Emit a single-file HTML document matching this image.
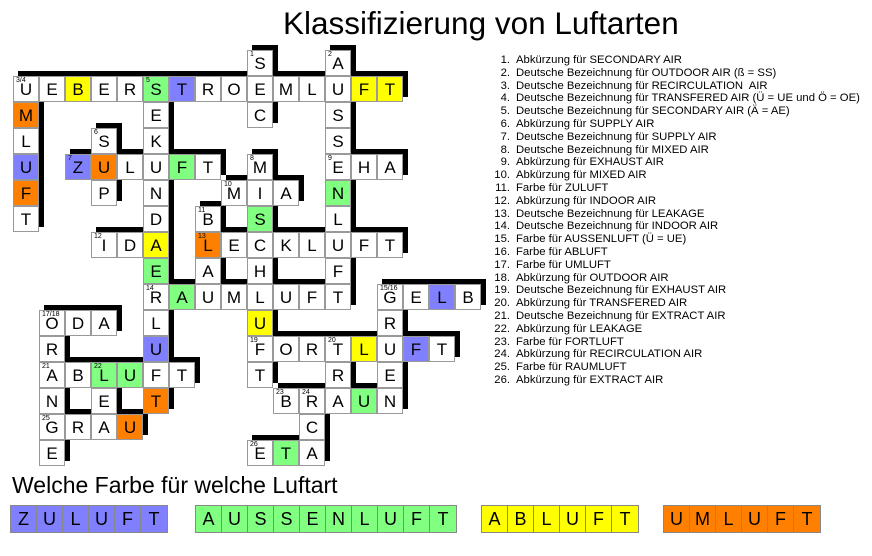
<!DOCTYPE html>
<html><head><meta charset="utf-8"><style>
body{margin:0;width:872px;height:556px;background:#fff;position:relative;overflow:hidden;font-family:"Liberation Sans",Arial,sans-serif}
.s,.c{position:absolute;width:26px;height:26px;box-sizing:border-box}
.s{background:#000;transform:translate(5px,-5px)}
.c{background:#fff;border:1px solid #999;font-size:17px;line-height:26px;text-align:center;color:#000}
.c b{position:absolute;left:2px;top:0;font-size:7px;line-height:8px;font-weight:normal}
.y{background:#ffff00}.g{background:#80ff80}.u{background:#8080ff}.o{background:#ff8000}
#t{position:absolute;left:283px;top:5px;font-size:31.5px;white-space:nowrap}
#l{position:absolute;left:486px;top:54px;font-size:11.3px;line-height:12.8px;margin:0;padding:0;list-style:none;white-space:nowrap}
#l span{display:inline-block;width:24px;text-align:right;margin-right:6px}
#h{position:absolute;left:12px;top:472px;font-size:23px;white-space:nowrap}
.bx{position:absolute;top:505px;height:26px;display:flex;border:1px solid #888}
.bx i{font-style:normal;width:26px;height:26px;box-sizing:border-box;border-right:1px solid #888;text-align:center;line-height:26px;font-size:18px}
.bx i:last-child{border-right:0}
</style></head><body>
<div id="t">Klassifizierung von Luftarten</div>
<ul id="l">
<li><span>1.</span>Abkürzung für SECONDARY AIR</li>
<li><span>2.</span>Deutsche Bezeichnung für OUTDOOR AIR (ß = SS)</li>
<li><span>3.</span>Deutsche Bezeichnung für RECIRCULATION&nbsp; AIR</li>
<li><span>4.</span>Deutsche Bezeichnung für TRANSFERED AIR (Ü = UE und Ö = OE)</li>
<li><span>5.</span>Deutsche Bezeichnung für SECONDARY AIR (Ä = AE)</li>
<li><span>6.</span>Abkürzung für SUPPLY AIR</li>
<li><span>7.</span>Deutsche Bezeichnung für SUPPLY AIR</li>
<li><span>8.</span>Deutsche Bezeichnung für MIXED AIR</li>
<li><span>9.</span>Abkürzung für EXHAUST AIR</li>
<li><span>10.</span>Abkürzung für MIXED AIR</li>
<li><span>11.</span>Farbe für ZULUFT</li>
<li><span>12.</span>Abkürzung für INDOOR AIR</li>
<li><span>13.</span>Deutsche Bezeichnung für LEAKAGE</li>
<li><span>14.</span>Deutsche Bezeichnung für INDOOR AIR</li>
<li><span>15.</span>Farbe für AUSSENLUFT (Ü = UE)</li>
<li><span>16.</span>Farbe für ABLUFT</li>
<li><span>17.</span>Farbe für UMLUFT</li>
<li><span>18.</span>Abkürzung für OUTDOOR AIR</li>
<li><span>19.</span>Deutsche Bezeichnung für EXHAUST AIR</li>
<li><span>20.</span>Abkürzung für TRANSFERED AIR</li>
<li><span>21.</span>Deutsche Bezeichnung für EXTRACT AIR</li>
<li><span>22.</span>Abkürzung für LEAKAGE</li>
<li><span>23.</span>Farbe für FORTLUFT</li>
<li><span>24.</span>Abkürzung für RECIRCULATION AIR</li>
<li><span>25.</span>Farbe für RAUMLUFT</li>
<li><span>26.</span>Abkürzung für EXTRACT AIR</li>
</ul>

<div id="sh">
<div class="s" style="left:247px;top:50px"></div><div class="s" style="left:325px;top:50px"></div>
<div class="s" style="left:13px;top:76px"></div><div class="s" style="left:39px;top:76px"></div><div class="s" style="left:65px;top:76px"></div><div class="s" style="left:91px;top:76px"></div><div class="s" style="left:117px;top:76px"></div><div class="s" style="left:143px;top:76px"></div><div class="s" style="left:169px;top:76px"></div><div class="s" style="left:195px;top:76px"></div><div class="s" style="left:221px;top:76px"></div><div class="s" style="left:247px;top:76px"></div><div class="s" style="left:273px;top:76px"></div><div class="s" style="left:299px;top:76px"></div><div class="s" style="left:325px;top:76px"></div><div class="s" style="left:351px;top:76px"></div><div class="s" style="left:377px;top:76px"></div>
<div class="s" style="left:13px;top:102px"></div><div class="s" style="left:143px;top:102px"></div><div class="s" style="left:247px;top:102px"></div><div class="s" style="left:325px;top:102px"></div>
<div class="s" style="left:13px;top:128px"></div><div class="s" style="left:91px;top:128px"></div><div class="s" style="left:143px;top:128px"></div><div class="s" style="left:325px;top:128px"></div>
<div class="s" style="left:13px;top:154px"></div><div class="s" style="left:65px;top:154px"></div><div class="s" style="left:91px;top:154px"></div><div class="s" style="left:117px;top:154px"></div><div class="s" style="left:143px;top:154px"></div><div class="s" style="left:169px;top:154px"></div><div class="s" style="left:195px;top:154px"></div><div class="s" style="left:247px;top:154px"></div><div class="s" style="left:325px;top:154px"></div><div class="s" style="left:351px;top:154px"></div><div class="s" style="left:377px;top:154px"></div>
<div class="s" style="left:13px;top:180px"></div><div class="s" style="left:91px;top:180px"></div><div class="s" style="left:143px;top:180px"></div><div class="s" style="left:221px;top:180px"></div><div class="s" style="left:247px;top:180px"></div><div class="s" style="left:273px;top:180px"></div><div class="s" style="left:325px;top:180px"></div>
<div class="s" style="left:13px;top:206px"></div><div class="s" style="left:143px;top:206px"></div><div class="s" style="left:195px;top:206px"></div><div class="s" style="left:247px;top:206px"></div><div class="s" style="left:325px;top:206px"></div>
<div class="s" style="left:91px;top:232px"></div><div class="s" style="left:117px;top:232px"></div><div class="s" style="left:143px;top:232px"></div><div class="s" style="left:195px;top:232px"></div><div class="s" style="left:221px;top:232px"></div><div class="s" style="left:247px;top:232px"></div><div class="s" style="left:273px;top:232px"></div><div class="s" style="left:299px;top:232px"></div><div class="s" style="left:325px;top:232px"></div><div class="s" style="left:351px;top:232px"></div><div class="s" style="left:377px;top:232px"></div>
<div class="s" style="left:143px;top:258px"></div><div class="s" style="left:195px;top:258px"></div><div class="s" style="left:247px;top:258px"></div><div class="s" style="left:325px;top:258px"></div>
<div class="s" style="left:143px;top:284px"></div><div class="s" style="left:169px;top:284px"></div><div class="s" style="left:195px;top:284px"></div><div class="s" style="left:221px;top:284px"></div><div class="s" style="left:247px;top:284px"></div><div class="s" style="left:273px;top:284px"></div><div class="s" style="left:299px;top:284px"></div><div class="s" style="left:325px;top:284px"></div><div class="s" style="left:377px;top:284px"></div><div class="s" style="left:403px;top:284px"></div><div class="s" style="left:429px;top:284px"></div><div class="s" style="left:455px;top:284px"></div>
<div class="s" style="left:39px;top:310px"></div><div class="s" style="left:65px;top:310px"></div><div class="s" style="left:91px;top:310px"></div><div class="s" style="left:143px;top:310px"></div><div class="s" style="left:247px;top:310px"></div><div class="s" style="left:377px;top:310px"></div>
<div class="s" style="left:39px;top:336px"></div><div class="s" style="left:143px;top:336px"></div><div class="s" style="left:247px;top:336px"></div><div class="s" style="left:273px;top:336px"></div><div class="s" style="left:299px;top:336px"></div><div class="s" style="left:325px;top:336px"></div><div class="s" style="left:351px;top:336px"></div><div class="s" style="left:377px;top:336px"></div><div class="s" style="left:403px;top:336px"></div><div class="s" style="left:429px;top:336px"></div>
<div class="s" style="left:39px;top:362px"></div><div class="s" style="left:65px;top:362px"></div><div class="s" style="left:91px;top:362px"></div><div class="s" style="left:117px;top:362px"></div><div class="s" style="left:143px;top:362px"></div><div class="s" style="left:169px;top:362px"></div><div class="s" style="left:247px;top:362px"></div><div class="s" style="left:325px;top:362px"></div><div class="s" style="left:377px;top:362px"></div>
<div class="s" style="left:39px;top:388px"></div><div class="s" style="left:91px;top:388px"></div><div class="s" style="left:143px;top:388px"></div><div class="s" style="left:273px;top:388px"></div><div class="s" style="left:299px;top:388px"></div><div class="s" style="left:325px;top:388px"></div><div class="s" style="left:351px;top:388px"></div><div class="s" style="left:377px;top:388px"></div>
<div class="s" style="left:39px;top:414px"></div><div class="s" style="left:65px;top:414px"></div><div class="s" style="left:91px;top:414px"></div><div class="s" style="left:117px;top:414px"></div><div class="s" style="left:299px;top:414px"></div>
<div class="s" style="left:39px;top:440px"></div><div class="s" style="left:247px;top:440px"></div><div class="s" style="left:273px;top:440px"></div><div class="s" style="left:299px;top:440px"></div>
</div>

<div id="cells">
<div class="c" style="left:247px;top:50px"><b>1</b>S</div><div class="c" style="left:325px;top:50px"><b>2</b>A</div>
<div class="c" style="left:13px;top:76px"><b>3/4</b>U</div><div class="c" style="left:39px;top:76px">E</div><div class="c y" style="left:65px;top:76px">B</div><div class="c" style="left:91px;top:76px">E</div><div class="c" style="left:117px;top:76px">R</div><div class="c g" style="left:143px;top:76px"><b>5</b>S</div><div class="c u" style="left:169px;top:76px">T</div><div class="c" style="left:195px;top:76px">R</div><div class="c" style="left:221px;top:76px">O</div><div class="c" style="left:247px;top:76px">E</div><div class="c" style="left:273px;top:76px">M</div><div class="c" style="left:299px;top:76px">L</div><div class="c" style="left:325px;top:76px">U</div><div class="c y" style="left:351px;top:76px">F</div><div class="c y" style="left:377px;top:76px">T</div>
<div class="c o" style="left:13px;top:102px">M</div><div class="c" style="left:143px;top:102px">E</div><div class="c" style="left:247px;top:102px">C</div><div class="c" style="left:325px;top:102px">S</div>
<div class="c" style="left:13px;top:128px">L</div><div class="c" style="left:91px;top:128px"><b>6</b>S</div><div class="c" style="left:143px;top:128px">K</div><div class="c" style="left:325px;top:128px">S</div>
<div class="c u" style="left:13px;top:154px">U</div><div class="c u" style="left:65px;top:154px"><b>7</b>Z</div><div class="c o" style="left:91px;top:154px">U</div><div class="c" style="left:117px;top:154px">L</div><div class="c" style="left:143px;top:154px">U</div><div class="c g" style="left:169px;top:154px">F</div><div class="c" style="left:195px;top:154px">T</div><div class="c" style="left:247px;top:154px"><b>8</b>M</div><div class="c" style="left:325px;top:154px"><b>9</b>E</div><div class="c" style="left:351px;top:154px">H</div><div class="c" style="left:377px;top:154px">A</div>
<div class="c o" style="left:13px;top:180px">F</div><div class="c" style="left:91px;top:180px">P</div><div class="c" style="left:143px;top:180px">N</div><div class="c" style="left:221px;top:180px"><b>10</b>M</div><div class="c" style="left:247px;top:180px">I</div><div class="c" style="left:273px;top:180px">A</div><div class="c g" style="left:325px;top:180px">N</div>
<div class="c" style="left:13px;top:206px">T</div><div class="c" style="left:143px;top:206px">D</div><div class="c" style="left:195px;top:206px"><b>11</b>B</div><div class="c g" style="left:247px;top:206px">S</div><div class="c" style="left:325px;top:206px">L</div>
<div class="c" style="left:91px;top:232px"><b>12</b>I</div><div class="c" style="left:117px;top:232px">D</div><div class="c y" style="left:143px;top:232px">A</div><div class="c o" style="left:195px;top:232px"><b>13</b>L</div><div class="c" style="left:221px;top:232px">E</div><div class="c" style="left:247px;top:232px">C</div><div class="c" style="left:273px;top:232px">K</div><div class="c" style="left:299px;top:232px">L</div><div class="c" style="left:325px;top:232px">U</div><div class="c" style="left:351px;top:232px">F</div><div class="c" style="left:377px;top:232px">T</div>
<div class="c g" style="left:143px;top:258px">E</div><div class="c" style="left:195px;top:258px">A</div><div class="c" style="left:247px;top:258px">H</div><div class="c" style="left:325px;top:258px">F</div>
<div class="c" style="left:143px;top:284px"><b>14</b>R</div><div class="c g" style="left:169px;top:284px">A</div><div class="c" style="left:195px;top:284px">U</div><div class="c" style="left:221px;top:284px">M</div><div class="c" style="left:247px;top:284px">L</div><div class="c" style="left:273px;top:284px">U</div><div class="c" style="left:299px;top:284px">F</div><div class="c" style="left:325px;top:284px">T</div><div class="c" style="left:377px;top:284px"><b>15/16</b>G</div><div class="c" style="left:403px;top:284px">E</div><div class="c u" style="left:429px;top:284px">L</div><div class="c" style="left:455px;top:284px">B</div>
<div class="c" style="left:39px;top:310px"><b>17/18</b>O</div><div class="c" style="left:65px;top:310px">D</div><div class="c" style="left:91px;top:310px">A</div><div class="c" style="left:143px;top:310px">L</div><div class="c y" style="left:247px;top:310px">U</div><div class="c" style="left:377px;top:310px">R</div>
<div class="c" style="left:39px;top:336px">R</div><div class="c u" style="left:143px;top:336px">U</div><div class="c" style="left:247px;top:336px"><b>19</b>F</div><div class="c" style="left:273px;top:336px">O</div><div class="c" style="left:299px;top:336px">R</div><div class="c" style="left:325px;top:336px"><b>20</b>T</div><div class="c y" style="left:351px;top:336px">L</div><div class="c" style="left:377px;top:336px">U</div><div class="c u" style="left:403px;top:336px">F</div><div class="c" style="left:429px;top:336px">T</div>
<div class="c" style="left:39px;top:362px"><b>21</b>A</div><div class="c" style="left:65px;top:362px">B</div><div class="c g" style="left:91px;top:362px"><b>22</b>L</div><div class="c g" style="left:117px;top:362px">U</div><div class="c" style="left:143px;top:362px">F</div><div class="c" style="left:169px;top:362px">T</div><div class="c" style="left:247px;top:362px">T</div><div class="c" style="left:325px;top:362px">R</div><div class="c" style="left:377px;top:362px">E</div>
<div class="c" style="left:39px;top:388px">N</div><div class="c" style="left:91px;top:388px">E</div><div class="c o" style="left:143px;top:388px">T</div><div class="c" style="left:273px;top:388px"><b>23</b>B</div><div class="c" style="left:299px;top:388px"><b>24</b>R</div><div class="c" style="left:325px;top:388px">A</div><div class="c g" style="left:351px;top:388px">U</div><div class="c" style="left:377px;top:388px">N</div>
<div class="c" style="left:39px;top:414px"><b>25</b>G</div><div class="c" style="left:65px;top:414px">R</div><div class="c" style="left:91px;top:414px">A</div><div class="c o" style="left:117px;top:414px">U</div><div class="c" style="left:299px;top:414px">C</div>
<div class="c" style="left:39px;top:440px">E</div><div class="c" style="left:247px;top:440px"><b>26</b>E</div><div class="c g" style="left:273px;top:440px">T</div><div class="c" style="left:299px;top:440px">A</div>
</div>

<div id="h">Welche Farbe für welche Luftart</div>
<div class="bx u" style="left:10px"><i>Z</i><i>U</i><i>L</i><i>U</i><i>F</i><i>T</i></div>
<div class="bx g" style="left:195px"><i>A</i><i>U</i><i>S</i><i>S</i><i>E</i><i>N</i><i>L</i><i>U</i><i>F</i><i>T</i></div>
<div class="bx y" style="left:481px"><i>A</i><i>B</i><i>L</i><i>U</i><i>F</i><i>T</i></div>
<div class="bx o" style="left:663px"><i>U</i><i>M</i><i>L</i><i>U</i><i>F</i><i>T</i></div>
</body></html>
